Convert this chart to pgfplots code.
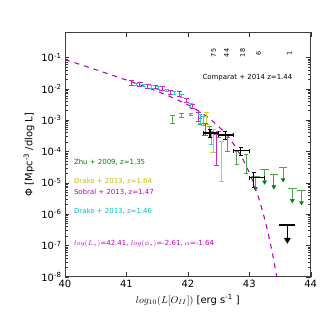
\documentclass[border=0pt]{standalone}
\usepackage{pgfplots}
\pgfplotsset{compat=1.18}
\usepackage{fontspec}
\setmainfont{DejaVu Sans}
\definecolor{mplg}{rgb}{0,0.5,0}
\definecolor{mplm}{rgb}{0.75,0,0.75}
\definecolor{mplc}{rgb}{0,0.75,0.75}
\definecolor{mply}{rgb}{0.75,0.75,0}
\colorlet{zhubar}{mplg!70!white}
\colorlet{drakeybar}{mply!80!white}
\colorlet{sobralbar}{mplm!85!white}
\colorlet{drakecbar}{mplc!80!white}

\begin{document}
\begin{tikzpicture}
\begin{axis}[
  scale only axis, width=245.7bp, height=244.4bp,
  xmin=40, xmax=44, ymode=log, ymin=1e-8, ymax=0.63,
  xtick={40,41,42,43,44},
  xticklabels={40,41,42,43,44},
  ytick={1e-8,1e-7,1e-6,1e-5,1e-4,1e-3,1e-2,1e-1},
  yticklabels={10\textsuperscript{-8},10\textsuperscript{-7},10\textsuperscript{-6},10\textsuperscript{-5},10\textsuperscript{-4},10\textsuperscript{-3},10\textsuperscript{-2},10\textsuperscript{-1}},
  tick align=inside,
  axis line style={black!75, line width=0.9pt},
  tick style={black!80},
  ticklabel style={font=\fontsize{10}{11}\selectfont},
  xlabel={$log_{10}(L[O_{II}])$ [erg s\textsuperscript{-1} ]},
  ylabel={Φ [Mpc\textsuperscript{-3} /dlog L]},
  label style={font=\fontsize{10}{11}\selectfont},
  clip=true,
]
% Schechter fit
\addplot[mplm, line width=1.1pt, dash pattern=on 5pt off 5pt] coordinates {
 (40,0.0853) (40.25,0.0588) (40.5,0.0405) (40.75,0.0277) (41.0,0.01886)
 (41.25,0.01265) (41.5,0.00830) (41.65,0.00632) (41.8,0.00472) (42.0,0.003044)
 (42.1,0.002377) (42.2,0.001805) (42.3,0.001327) (42.4,9.38e-4) (42.5,6.28e-4)
 (42.6,3.94e-4) (42.7,2.28e-4) (42.8,1.186e-4) (42.9,5.42e-5) (43.0,2.10e-5)
 (43.05,1.213e-5) (43.1,6.62e-6) (43.15,3.39e-6) (43.2,1.607e-6) (43.25,7.05e-7)
 (43.3,2.81e-7) (43.35,1.014e-7) (43.4,3.25e-8) (43.45,9.16e-9)};

% Zhu 2009
\addplot[draw=none, mark=none,
  error bars/.cd, y dir=both, y explicit,
  error bar style={draw=zhubar, line width=1pt},
  error mark options={rotate=90, draw=zhubar, mark size=2.3pt, line width=1pt}] coordinates {
 (41.75,1.0e-3) += (0,3.5e-4) -= (0,2.1e-4)
 (41.9,1.4e-3) += (0,1.8e-4) -= (0,1.7e-4)
 (42.05,1.46e-3) += (0,1.2e-4) -= (0,1.1e-4)
 (42.2,9.0e-4) += (0,2.5e-4) -= (0,1.9e-4)
 (42.35,5.0e-4) += (0,1.3e-4) -= (0,1.2e-4)
 (42.5,3.6e-4) += (0,0.8e-4) -= (0,0.8e-4)
 (42.65,1.9e-4) += (0,8e-5) -= (0,9e-5)
 (42.8,6.8e-5) += (0,3.2e-5) -= (0,3.1e-5)
 (42.95,4.5e-5) += (0,3.3e-5) -= (0,2.5e-5)};
% Zhu 2009 upper limits
\addplot[draw=none, mark=none,
  error bars/.cd, x dir=both, x explicit, y dir=minus, y explicit,
  error bar style={draw=zhubar, line width=1pt}, error mark=none] coordinates {
 (43.1,1.6e-5) += (0.07,0) -= (0.07,1.0e-5)
 (43.25,2.6e-5) += (0.07,0) -= (0.07,1.6e-5)
 (43.4,1.8e-5) += (0.07,0) -= (0.07,1.1e-5)
 (43.55,3.0e-5) += (0.07,0) -= (0.07,1.8e-5)
 (43.7,6.6e-6) += (0.07,0) -= (0.07,4.0e-6)
 (43.85,5.5e-6) += (0.07,0) -= (0.07,3.3e-6)};
\addplot[only marks, mark=triangle*, mark size=2.3pt, mplg, mark options={rotate=180}] coordinates {
 (43.1,6.6e-6) (43.25,1.05e-5) (43.4,7.4e-6) (43.55,1.25e-5) (43.7,2.7e-6) (43.85,2.3e-6)};

% Drake 2013 z=1.64
\addplot[draw=none, mark=none,
  error bars/.cd, y dir=both, y explicit,
  error bar style={draw=drakeybar, line width=1pt},
  error mark options={rotate=90, draw=drakeybar, mark size=2.6pt, line width=1pt}] coordinates {
 (42.31,1.2e-3) += (0,6e-4) -= (0,4.9e-4)
 (42.41,2.9e-4) += (0,2.1e-4) -= (0,2.0e-4)
 (42.55,1.0e-4) += (0,1.0e-4) -= (0,8.9e-5)};

% Sobral 2013 z=1.47
\addplot[draw=none, mark=none,
  error bars/.cd, y dir=both, y explicit,
  error bar style={draw=sobralbar, line width=1pt},
  error mark options={rotate=90, draw=sobralbar, mark size=2.6pt, line width=1pt}] coordinates {
 (41.08,0.0152) += (0,0.0028) -= (0,0.0025)
 (41.22,0.0134) += (0,0.0020) -= (0,0.0018)
 (41.35,0.0118) += (0,0.0018) -= (0,0.0016)
 (41.47,0.0112) += (0,0.0016) -= (0,0.0014)
 (41.58,0.0100) += (0,0.0015) -= (0,0.0013)
 (41.72,0.0074) += (0,0.0012) -= (0,0.0010)
 (41.86,0.0068) += (0,0.0012) -= (0,0.0010)
 (41.98,0.0042) += (0,0.0008) -= (0,0.0007)
 (42.07,0.0027) += (0,0.0005) -= (0,0.0004)
 (42.17,0.0012) += (0,0.0005) -= (0,0.0003)
 (42.28,5.5e-4) += (0,2.4e-4) -= (0,2.3e-4)
 (42.47,1.9e-4) += (0,1.6e-4) -= (0,1.55e-4)};

% Drake 2013 z=1.46
\addplot[draw=none, mark=none,
  error bars/.cd, y dir=both, y explicit,
  error bar style={draw=drakecbar, line width=1pt},
  error mark options={rotate=90, draw=drakecbar, mark size=2pt, line width=1pt}] coordinates {
 (41.16,0.0133) += (0,0.0012) -= (0,0.0011)
 (41.28,0.0126) += (0,0.0011) -= (0,0.0010)
 (41.41,0.0112) += (0,0.0010) -= (0,0.0009)
 (41.52,0.0105) += (0,0.0010) -= (0,0.0009)
 (41.66,0.0087) += (0,0.0009) -= (0,0.0008)
 (41.78,0.0072) += (0,0.0008) -= (0,0.0007)
 (41.9,0.0059) += (0,0.0007) -= (0,0.0006)
 (42.05,0.0029) += (0,0.0005) -= (0,0.0004)
 (42.2,0.0011) += (0,0.0004) -= (0,0.0003)
 (42.25,9.5e-4) += (0,3.5e-4) -= (0,3.0e-4)
 (42.38,3.0e-4) += (0,1.3e-4) -= (0,1.4e-4)};

% Comparat 2014 z=1.44
\addplot[draw=none, mark=none,
  error bars/.cd, x dir=both, x explicit, y dir=both, y explicit,
  error bar style={draw=black, line width=1.6pt},
  error mark options={rotate=90, draw=black, mark size=2pt, line width=1pt}] coordinates {
 (42.36,3.8e-4) += (0.14,1.2e-4) -= (0.11,1.0e-4)
 (42.61,3.3e-4) += (0.14,0.9e-4) -= (0.11,0.9e-4)
 (42.86,1.05e-4) += (0.14,3.0e-5) -= (0.11,3.0e-5)
 (43.07,1.45e-5) += (0.18,7.0e-6) -= (0.07,7.5e-6)};
\addplot[draw=none, mark=none,
  error bars/.cd, x dir=both, x explicit, y dir=minus, y explicit,
  error bar style={draw=black, line width=1.6pt}, error mark=none] coordinates {
 (43.62,4.5e-7) += (0.13,0) -= (0.13,2.9e-7)};
\addplot[only marks, mark=triangle*, mark size=3.5pt, black, mark options={rotate=180}] coordinates {(43.62,1.5e-7)};

% annotations
\begin{scope}[font=\fontsize{6.5}{7}\selectfont]
\node[rotate=90] at (axis cs:42.42,0.138) {75};
\node[rotate=90] at (axis cs:42.63,0.138) {44};
\node[rotate=90] at (axis cs:42.89,0.138) {18};
\node[rotate=90] at (axis cs:43.15,0.138) {6};
\node[rotate=90] at (axis cs:43.65,0.138) {1};
\end{scope}
\begin{scope}[font=\fontsize{7}{8}\selectfont]
\node at (axis cs:42.97,0.023) {Comparat + 2014 z=1.44};
\node[anchor=west, text=mplg] at (axis cs:40.09,4.4e-5) {Zhu + 2009, z=1.35};
\node[anchor=west, text=mply] at (axis cs:40.09,1.15e-5) {Drake + 2013, z=1.64};
\node[anchor=west, text=mplm] at (axis cs:40.09,4.8e-6) {Sobral + 2013, z=1.47};
\node[anchor=west, text=mplc] at (axis cs:40.09,1.26e-6) {Drake + 2013, z=1.46};
\node[anchor=west, text=mplm] at (axis cs:40.09,1.1e-7) {$log(L_*)$=42.41, $log(\phi_*)$=-2.61, $\alpha$=-1.64};
\end{scope}
\end{axis}
\pgfresetboundingbox
\useasboundingbox (current axis.south west) ++(-65bp,-50.3bp) rectangle ++(327bp,327bp);
\end{tikzpicture}
\end{document}
